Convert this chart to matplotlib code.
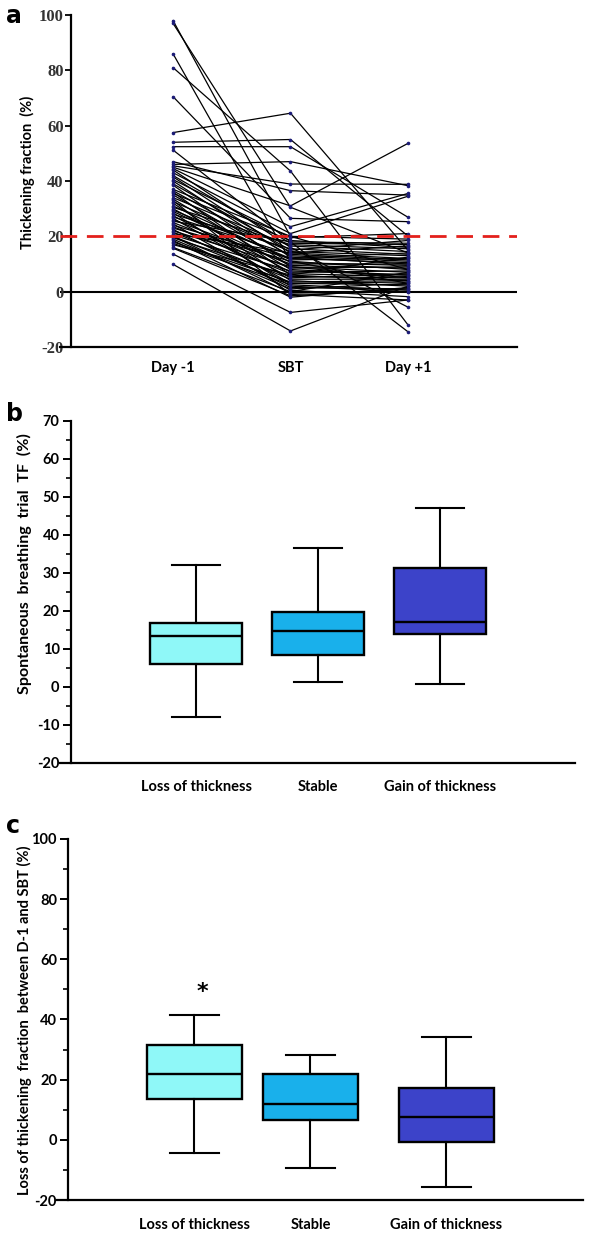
import numpy as np
import matplotlib.pyplot as plt

plt.rcParams['axes.unicode_minus'] = False

# panel a: thickening fraction (%) per patient at three time points
day_minus1 = [98, 97, 86, 81, 70.5, 57.5, 54, 52.4, 51.2, 47, 46, 45.5, 45, 44.5, 44, 43,
              42, 41.5, 40.5, 40, 39, 38.5, 37, 36.5, 36, 35.5, 35, 34, 33.5, 33, 32.5, 32,
              31, 30.5, 30, 29.5, 29, 28.5, 28, 27.5, 27, 26.5, 26, 25.5, 25, 24.5, 24, 23.5,
              23, 22.5, 22, 21.5, 21, 20.5, 20, 20, 19.5, 19, 18.5, 18, 17.5, 17, 16, 15.7,
              13.6, 9.9]
sbt = [20, 30.5, 11, 43.6, 26.5, 64.5, 55, 52.4, 18, 36.5, 47, 38.9, 31, 23.5, 16, 21,
       17.5, 14, 19.5, 12.5, 15, 9, 20, 13, 6, 18.5, 10.5, 16.5, 8, -1, 14.5, 4,
       11.5, 17, 7, 12, 9.5, 2, 15.5, 5, 13.5, 3, 10, 18, 8.5, 0.5, 12, 6.5,
       11, 1.5, 9, 4.5, 14, 7.5, 3, -0.5, 5.5, 1, -2, 3.5, 2.5, 6, 0, -1.5,
       -7.5, -14.2]
day_plus1 = [8, 14, 3, -12, 25.3, 15, 20.1, 26.9, -14.5, 34.9, 38.3, 38.8, 53.6, 35.5, -5.6, 34.5,
             17, 12, 21, 10, 18.5, 5, 19, 11, 4, 16, 9.5, 14.5, 6, -3, 13, 2,
             12, 15.5, 7.5, 10.5, 8.5, 0, 13.5, 6.5, 11.5, 3.5, 10, 17.5, 9, -1.8, 14, 5.5,
             8, 1, 7, 4.5, 16.5, 6, 2.5, -0.1, 5, 3, 1.5, 4, 0.5, 12.5, 7, 1,
             -3, 2]
times = ['Day -1', 'SBT', 'Day +1']

# panels b and c: box statistics per group
groups = ['Loss of thickness', 'Stable', 'Gain of thickness']
group_colors = ['#8ff8f8', '#19b0eb', '#3c43c9']

b_whislo = [-7.8, 1.2, 0.8]
b_q1 = [6.1, 8.3, 13.9]
b_med = [13.3, 14.7, 17.2]
b_q3 = [16.8, 19.8, 31.2]
b_whishi = [32, 36.4, 47]

c_whislo = [-4.5, -9.5, -15.7]
c_q1 = [13.7, 6.6, -0.6]
c_med = [21.8, 11.8, 7.7]
c_q3 = [31.5, 21.9, 17.2]
c_whishi = [41.6, 28.1, 34.2]

W, H = 602, 1235
fig = plt.figure(figsize=(W / 100, H / 100), dpi=100)
sans = 'Lato'


def px_axes(left, right, top, bottom):
    return fig.add_axes([left / W, 1 - bottom / H, (right - left) / W, (bottom - top) / H])


def style(ax, yspine_x):
    for s in ['top', 'right']:
        ax.spines[s].set_visible(False)
    ax.spines['left'].set_position(('data', yspine_x))
    ax.spines['left'].set_linewidth(1.6)
    ax.spines['bottom'].set_linewidth(1.6)


def fig_text(x, y, s, **kw):
    fig.text(x / W, 1 - y / H, s, **kw)


# ---- a ----
ax = px_axes(60, 517, 15, 347)
vals = np.array([day_minus1, sbt, day_plus1])
ax.plot([0, 1, 2], vals, color='black', lw=0.9, marker='o', ms=2.6,
        mfc='#1c1c78', mec='#1c1c78', mew=0, zorder=2)
ax.axhline(0, color='black', lw=1.5, zorder=1)
ax.axhline(20, color='#e3201c', lw=2, dashes=(6, 3.5), zorder=3)
ax.set_xlim(-0.962, 2.928)
ax.set_ylim(-20, 100)
style(ax, -0.871)
ax.set_yticks(range(-20, 101, 20))
ax.set_xticks([0, 1, 2])
ax.set_xticklabels(times, fontfamily=sans, fontweight='bold', fontsize=10.5)
ax.tick_params(axis='x', length=0, pad=10)
ax.tick_params(axis='y', length=4, width=1.3, pad=1)
for t in ax.get_yticklabels():
    t.set_fontfamily('Liberation Serif')
    t.set_fontweight('bold')
    t.set_fontsize(12)
    t.set_color('#333333')
fig_text(27, 172, 'Thickening fraction  (%)', rotation=90, ha='center', va='center',
         fontfamily=sans, fontweight='bold', fontsize=10.5)
fig_text(14, 16, 'a', ha='center', va='center', fontfamily='DejaVu Sans',
         fontweight='bold', fontsize=17)


def box_panel(ax, pos, whislo, q1, med, q3, whishi, width, capw):
    stats = []
    for i in range(len(groups)):
        stats.append({'whislo': whislo[i], 'q1': q1[i], 'med': med[i],
                      'q3': q3[i], 'whishi': whishi[i], 'fliers': []})
    bp = ax.bxp(stats, positions=pos, widths=width, patch_artist=True, showfliers=False,
                capwidths=capw,
                boxprops=dict(lw=1.7, edgecolor='black'),
                medianprops=dict(color='black', lw=1.7),
                whiskerprops=dict(color='black', lw=1.5),
                capprops=dict(color='black', lw=1.5))
    for patch, c in zip(bp['boxes'], group_colors):
        patch.set_facecolor(c)


def box_axis(ax, pad):
    ax.set_xticklabels(groups, fontfamily=sans, fontweight='bold', fontsize=10.5)
    ax.tick_params(axis='x', length=0, pad=pad)
    ax.tick_params(axis='y', which='major', length=6, width=1.4, pad=2, labelsize=10.5)
    ax.tick_params(axis='y', which='minor', length=3.5, width=1.2)
    for t in ax.get_yticklabels():
        t.set_fontfamily(sans)
        t.set_fontweight('bold')


# ---- b ----
ax = px_axes(60, 575, 420.7, 763)
box_panel(ax, [0, 1, 2], b_whislo, b_q1, b_med, b_q3, b_whishi, 0.76, 0.4)
ax.set_xlim(-1.115, 3.107)
ax.set_ylim(-20, 70)
style(ax, -1.027)
ax.set_yticks(range(-20, 71, 10))
ax.set_yticks(range(-15, 70, 10), minor=True)
box_axis(ax, 12)
fig_text(24, 564, 'Spontaneous  breathing  trial  TF  (%)', rotation=90, ha='center',
         va='center', fontfamily=sans, fontweight='bold', fontsize=11.5)
fig_text(14, 414, 'b', ha='center', va='center', fontfamily='DejaVu Sans',
         fontweight='bold', fontsize=17)

# ---- c ----
ax = px_axes(57, 583, 839, 1200)
c_pos = [0, 1, 2.172]
box_panel(ax, c_pos, c_whislo, c_q1, c_med, c_q3, c_whishi, 0.82, 0.42)
ax.set_xlim(-1.185, 3.349)
ax.set_ylim(-20, 100)
style(ax, -1.09)
ax.set_yticks(range(-20, 101, 20))
ax.set_yticks(range(-10, 100, 20), minor=True)
box_axis(ax, 13)
ax.text(c_pos[0] + 0.07, 49.3, '*', ha='center', va='center', fontsize=16,
        fontweight='bold', fontfamily='DejaVu Sans')
fig_text(24, 1020, 'Loss of thickening  fraction  between D-1 and SBT (%)', rotation=90,
         ha='center', va='center', fontfamily=sans, fontweight='bold', fontsize=10.5)
fig_text(13, 826, 'c', ha='center', va='center', fontfamily='DejaVu Sans',
         fontweight='bold', fontsize=17)

fig.savefig('out.png', dpi=100)
